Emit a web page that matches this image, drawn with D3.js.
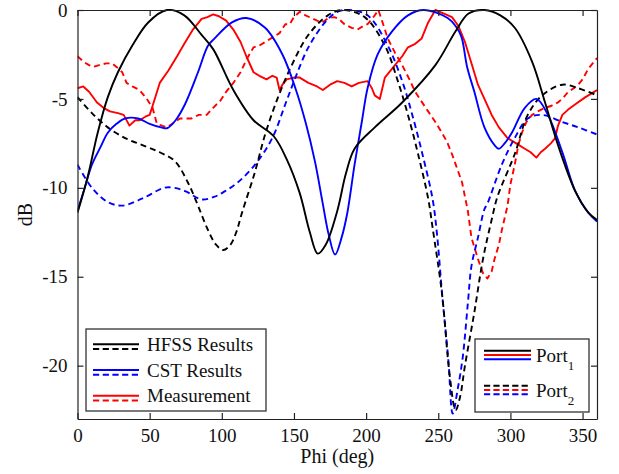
<!DOCTYPE html>
<html><head><meta charset="utf-8">
<script src="https://cdn.jsdelivr.net/npm/d3@7"></script>
<style>body{margin:0;background:#fff}svg{display:block}
svg text{font-family:"Liberation Serif","Tinos","Times New Roman",Times,"DejaVu Serif",serif !important;}
</style>
</head><body>
<svg id="c" width="619" height="474"></svg>
<script>
// ---- data (phi in degrees, value in dB) ----
const xTicks = [0,50,100,150,200,250,300,350];
const yTicks = [0,-5,-10,-15,-20];
const legendLabels = ["HFSS Results","CST Results","Measurement"];
const portLabels = ["1","2"];

const hfssPort1 = [[0,-11.4],[7,-9.4],[14,-6.9],[21,-4.9],[28,-3.5],[38,-2],[49,-0.7],[62,0],[74,-0.3],[86,-1.4],[94,-2.2],[108,-4.5],[122,-6.2],[136,-7.1],[145,-8.4],[154,-10.3],[161,-12.5],[166.5,-13.7],[172,-13.2],[180,-11.3],[186,-9.2],[192,-7.8],[206,-6.6],[225,-5.2],[248,-3.1],[262,-1.2],[271,-0.2],[282,0],[293,-0.3],[303,-1],[315,-2.9],[324,-5.2],[333,-7.6],[345,-10.2],[354,-11.4],[360,-11.8]];
const hfssPort2 = [[0,-4.9],[10,-5.8],[21,-6.6],[33,-7.2],[45,-7.6],[57,-8.0],[67.5,-8.5],[76.5,-9.7],[83,-10.9],[90,-12.3],[96,-13.2],[101,-13.5],[106,-13.2],[110,-12.5],[114,-11.4],[123,-9.1],[130,-7],[139,-4.9],[148.5,-3.1],[160,-1.4],[173.5,-0.3],[184,0],[199,-0.4],[213,-2],[222,-4],[229,-5.9],[236,-8.1],[243,-10.6],[246,-12.2],[252.5,-15.9],[258,-20.6],[262,-22.5],[265,-21.8],[268.5,-20],[275,-17],[281,-14],[287,-11.8],[291,-10.5],[303,-8.1],[312,-5.9],[322,-4.8],[336,-4.2],[347,-4.4],[360,-4.8]];
const cstPort1 = [[0,-11.3],[5,-10],[10,-8.7],[16,-7.7],[21,-6.9],[27,-6.4],[33,-6.1],[42,-6.1],[50,-6.4],[58,-6.6],[62,-6.65],[68,-6.2],[74.5,-5.3],[83.5,-3.5],[90.5,-2],[95,-1.6],[107,-0.7],[117,-0.45],[130,-1],[142,-2.5],[151,-4.4],[158,-6.3],[164.5,-8.5],[170,-10.9],[174,-12.6],[178.5,-13.75],[183,-12.8],[187,-11.4],[192,-8.7],[197,-6.3],[201,-4.4],[208,-2.5],[218,-1.2],[229,-0.3],[240,0],[256.5,-0.45],[262,-0.9],[266,-1.5],[270,-3.2],[275,-4.6],[282,-6.6],[289,-7.6],[292,-7.8],[296,-7.5],[301,-6.9],[310,-5.5],[318,-5.0],[326,-5.9],[336,-8],[345,-10.2],[354,-11.4],[360,-11.9]];
const cstPort2 = [[0,-8.7],[10,-10],[21,-10.8],[31,-11],[45,-10.6],[60,-10],[67,-10.0],[75,-10.2],[86,-10.65],[95,-10.5],[102,-10.2],[111,-9.7],[123,-8.7],[135,-7.2],[144,-5.3],[151,-3.8],[160,-2.1],[171.5,-0.7],[180,-0.1],[188,0],[201,-0.3],[215,-2],[225,-4],[232,-5.9],[239,-8.1],[246,-10.6],[249,-12.5],[252.6,-15.9],[257,-19.7],[260,-22.7],[263.5,-21.3],[267,-19.5],[270.5,-16.5],[273,-14.4],[277.5,-12.8],[282,-11.2],[284,-10.9],[294,-8.7],[303,-7.2],[312,-6.1],[322,-5.9],[336,-6.3],[347,-6.6],[360,-7]];
const measPort1 = [[0,-4.4],[4,-4.3],[8,-4.6],[13.5,-5.2],[18,-5.5],[22.5,-5.7],[28,-5.8],[32,-5.9],[36,-6.5],[40,-6.2],[43,-6.2],[47,-6.0],[50,-5.9],[52,-5.4],[57,-4.1],[63,-3.4],[69,-2.6],[74,-1.9],[80,-1.1],[86,-0.5],[90,-0.4],[94,-0.25],[98,-0.35],[103,-0.6],[108,-1.1],[113,-1.8],[117,-2.6],[122,-3.5],[126,-3.7],[131,-3.9],[135,-3.7],[138,-3.8],[140,-4.5],[142,-4.2],[145,-3.9],[150,-3.8],[154,-3.8],[160,-4.1],[166,-4.3],[170,-4.5],[175,-4.2],[180,-4],[185,-4.1],[190,-4.3],[195,-4.1],[201,-4],[204,-4.4],[206,-4.8],[209.5,-5],[213,-3.8],[220,-3.1],[225,-2.6],[229,-2.1],[234,-1.9],[238.5,-1.6],[243,-0.7],[248,0],[254,-0.2],[259.5,-0.4],[264,-0.9],[268.5,-1.8],[273,-3.0],[277.5,-4.2],[282,-5.0],[287,-5.9],[292,-6.6],[298,-7.2],[304,-7.5],[310,-7.8],[314,-8.0],[318,-8.3],[321,-8.0],[324,-7.8],[328,-7.5],[331,-7.2],[333,-6.5],[336,-5.9],[340,-5.6],[345,-5.3],[352,-4.9],[356,-4.7],[360,-4.5]];
const measPort2 = [[0,-2.6],[4,-2.9],[8,-3.1],[11,-3.2],[15,-3.1],[20,-3],[24,-3.0],[27,-3.2],[31,-3.5],[34,-4.1],[38,-4.3],[43,-4.5],[48,-5],[52,-5.5],[55,-6.4],[58.5,-6.5],[62,-6.6],[67.5,-6.3],[71,-6.1],[79,-6.1],[84,-5.9],[89.5,-5.9],[94,-5.5],[99,-5.1],[103,-4.6],[108,-4.1],[113,-3.5],[117,-2.8],[122,-2.1],[126,-2.0],[130,-1.8],[136,-1.5],[140,-1.3],[144,-0.8],[147,-0.8],[150,-0.4],[154,-0.1],[158,-0.3],[162,-0.45],[166,-0.6],[169.5,-0.7],[174,-0.45],[178,-0.4],[181,-0.5],[185,-0.8],[190,-1],[194,-1.1],[198,-0.9],[201,-0.8],[204,-0.5],[206,-0.3],[208.5,0],[211,-0.6],[215,-1.6],[220,-2.4],[225,-3.1],[230,-3.9],[234,-4.6],[238,-5.1],[243,-5.7],[248,-6.3],[252.5,-6.9],[256,-7.4],[259.5,-8.1],[263,-8.9],[266.5,-9.7],[270.5,-11.3],[273,-12.8],[277.5,-14],[281,-14.8],[284,-15.1],[287,-14.7],[289,-14],[292,-13.2],[294,-12.4],[298,-11],[300,-9.8],[303,-8.7],[305.5,-7.6],[308,-6.9],[311,-6.3],[315,-5.9],[319,-5.7],[324,-5.5],[328,-5.4],[333,-5.2],[337,-4.9],[340,-4.6],[344,-4.4],[347,-4.2],[350,-3.9],[354,-3.3],[357,-3.0],[360,-2.7]];

// ---- chart ----
const svg = d3.select("#c");
const W = 619, H = 474;
const L = 77.5, R = 597, T = 10, B = 419;
const x = d3.scaleLinear().domain([0,360]).range([L,R]);
const y = d3.scaleLinear().domain([-23,0]).range([B,T]);
const font = "Liberation Serif, Tinos, Times New Roman, serif";
const BLK = "#000", BLU = "#0000ff", RED = "#ff0000";
const DASH = "6,4";

svg.append("rect").attr("width",W).attr("height",H).attr("fill","#fff");

svg.append("clipPath").attr("id","clip").append("rect")
  .attr("x",L).attr("y",T-1).attr("width",R-L).attr("height",B-T+1);

const g = svg.append("g").attr("clip-path","url(#clip)");
const lineSmooth = d3.line().x(d=>x(d[0])).y(d=>y(d[1])).curve(d3.curveCatmullRom.alpha(0.5));
const lineRough = d3.line().x(d=>x(d[0])).y(d=>y(d[1]));

const series = [
  {d: measPort2, c: RED, dash: true, gen: lineRough},
  {d: measPort1, c: RED, dash: false, gen: lineRough},
  {d: cstPort2, c: BLU, dash: true, gen: lineSmooth},
  {d: hfssPort2, c: BLK, dash: true, gen: lineSmooth},
  {d: cstPort1, c: BLU, dash: false, gen: lineSmooth},
  {d: hfssPort1, c: BLK, dash: false, gen: lineSmooth}
];
series.forEach(s=>{
  g.append("path").attr("d", s.gen(s.d)).attr("fill","none")
   .attr("stroke", s.c).attr("stroke-width",1.9)
   .attr("stroke-dasharray", s.dash ? DASH : null)
   .attr("stroke-linejoin","round");
});

// axes (MATLAB-style box with inward ticks)
const axB = d3.axisBottom(x).tickValues(xTicks).tickSizeInner(-6).tickSizeOuter(0).tickPadding(10).tickFormat(d3.format("d"));
const axT = d3.axisTop(x).tickValues(xTicks).tickSizeInner(-6).tickSizeOuter(0).tickFormat("");
const axL = d3.axisLeft(y).tickValues(yTicks).tickSizeInner(-6).tickSizeOuter(0).tickPadding(10).tickFormat(d=>d===0?"0":"-"+Math.abs(d));
const axR = d3.axisRight(y).tickValues(yTicks).tickSizeInner(-6).tickSizeOuter(0).tickFormat("");

function style(sel){
  sel.attr("font-family",null).attr("font-size",null);
  sel.selectAll("path").attr("stroke","#222").attr("stroke-width",1.2);
  sel.selectAll("line").attr("stroke","#222").attr("stroke-width",1.2);
  sel.selectAll("text").style("font-family",font).style("font-size","19px").attr("fill","#111");
}
style(svg.append("g").attr("transform",`translate(0,${B})`).call(axB));
style(svg.append("g").attr("transform",`translate(0,${T})`).call(axT));
style(svg.append("g").attr("transform",`translate(${L},0)`).call(axL));
style(svg.append("g").attr("transform",`translate(${R},0)`).call(axR));

// axis labels
svg.append("text").attr("x",(L+R)/2).attr("y",463).attr("text-anchor","middle")
  .style("font-family",font).style("font-size","20px").attr("fill","#111").text("Phi (deg)");
svg.append("text").attr("transform",`translate(32,${(T+B)/2}) rotate(-90)`).attr("text-anchor","middle")
  .style("font-family",font).style("font-size","20px").attr("fill","#111").text("dB");

// legend 1
const lg1 = svg.append("g");
lg1.append("rect").attr("x",86).attr("y",329).attr("width",180).attr("height",82)
  .attr("fill","#fff").attr("stroke","#333").attr("stroke-width",1.3);
const lcols = [BLK, BLU, RED];
legendLabels.forEach((t,i)=>{
  const yb = 344.3 + i*25.7;
  lg1.append("line").attr("x1",93).attr("x2",139).attr("y1",yb).attr("y2",yb)
    .attr("stroke",lcols[i]).attr("stroke-width",2);
  lg1.append("line").attr("x1",93).attr("x2",139).attr("y1",yb+4.7).attr("y2",yb+4.7)
    .attr("stroke",lcols[i]).attr("stroke-width",2).attr("stroke-dasharray","6.2,3.5");
  lg1.append("text").attr("x",147).attr("y",yb+6.5).style("font-family",font).style("font-size","19px")
    .attr("fill","#111").text(t);
});

// legend 2
const lg2 = svg.append("g");
lg2.append("rect").attr("x",475).attr("y",339).attr("width",114).attr("height",73)
  .attr("fill","#fff").attr("stroke","#333").attr("stroke-width",1.3);
const pcols = [BLK, RED, BLU];
portLabels.forEach((p,i)=>{
  const y0 = 350.7 + i*35;
  pcols.forEach((c,k)=>{
    lg2.append("line").attr("x1",484).attr("x2",531).attr("y1",y0+k*4.3).attr("y2",y0+k*4.3)
      .attr("stroke",c).attr("stroke-width",2)
      .attr("stroke-dasharray", i===1 ? "6.2,3.2" : null);
  });
  const tx = lg2.append("text").attr("x",536).attr("y",y0+11).style("font-family",font)
    .style("font-size","19px").attr("fill","#111");
  tx.append("tspan").text("Port");
  tx.append("tspan").style("font-size","13px").attr("dy",8).text(p);
});
</script>
</body></html>
